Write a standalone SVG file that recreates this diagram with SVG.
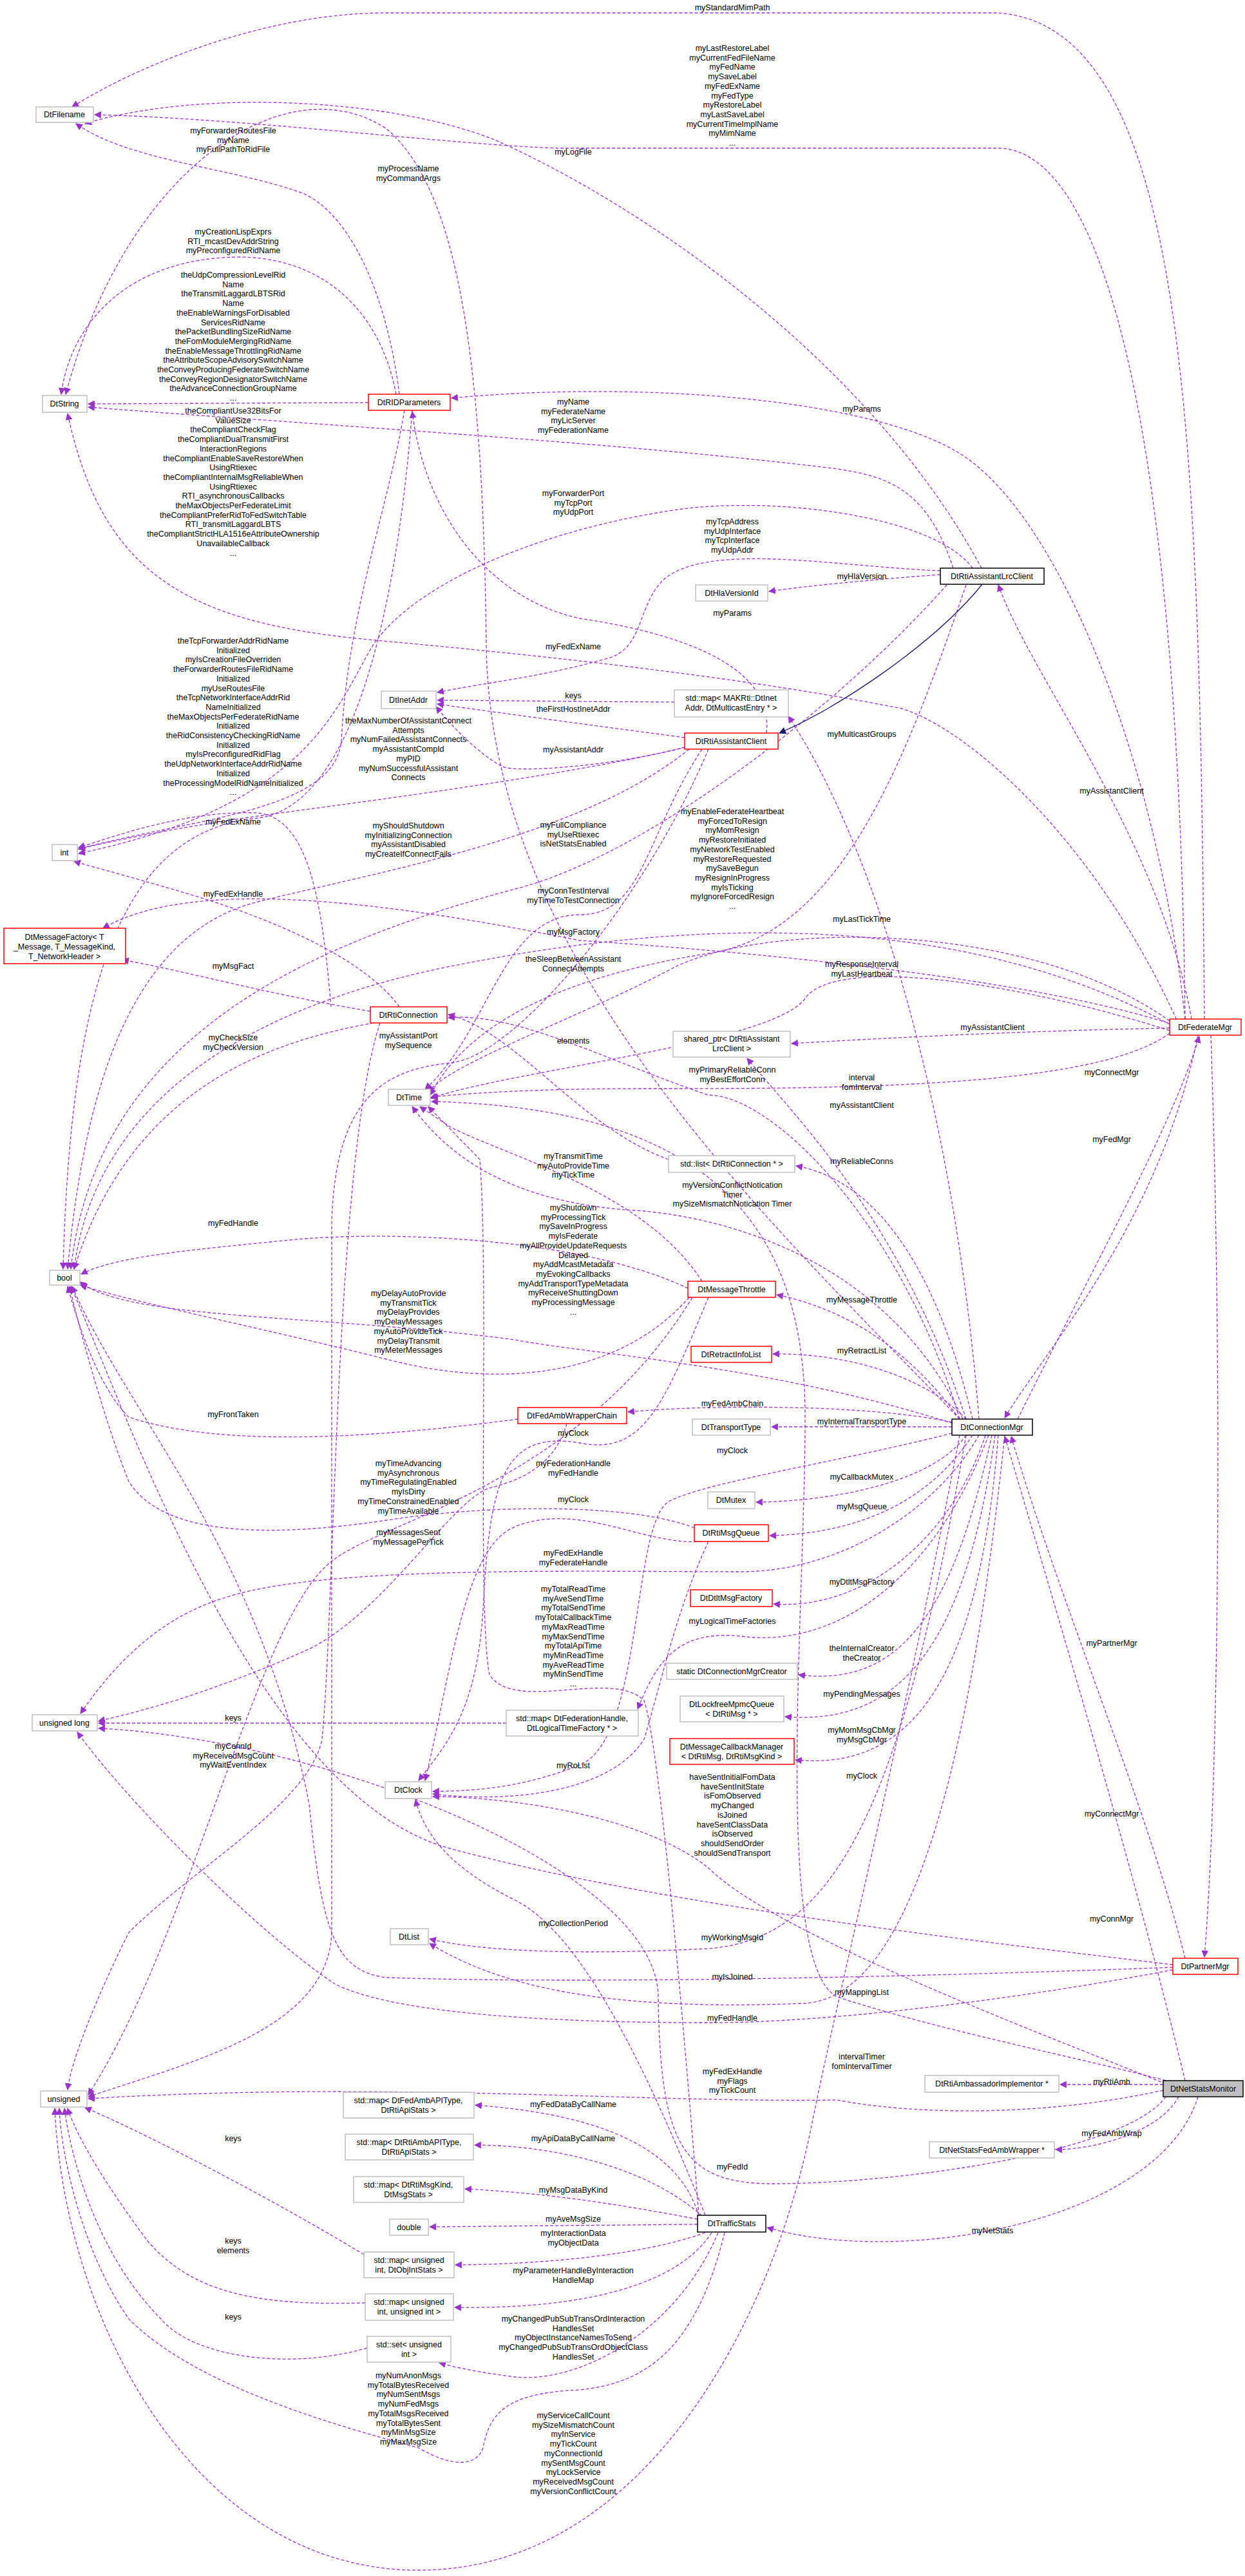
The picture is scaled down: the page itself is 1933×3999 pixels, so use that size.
<svg xmlns="http://www.w3.org/2000/svg" width="1933" height="3999" viewBox="0 0 1933 3999">
<style>
text{font-family:"Liberation Sans",Arial,sans-serif;font-size:12.5px;fill:#000;text-anchor:middle}
.n rect{fill:#fff;stroke:#bfbfbf;stroke-width:1.5}
.r rect{stroke:#ff0000}
.b rect{stroke:#000}
.e path{fill:none;stroke:#9a32cd;stroke-width:1.3;stroke-dasharray:5,3;marker-end:url(#a)}
.e path.inh{stroke:#191970;stroke-dasharray:none;marker-end:url(#ai)}
</style>
<defs>
<marker id="a" viewBox="0 0 10 10" refX="9" refY="5" markerWidth="11" markerHeight="11" markerUnits="userSpaceOnUse" orient="auto"><path d="M0,0 L10,5 L0,10 z" fill="#9a32cd"/></marker>
<marker id="ai" viewBox="0 0 10 10" refX="9" refY="5" markerWidth="11" markerHeight="11" markerUnits="userSpaceOnUse" orient="auto"><path d="M0,0 L10,5 L0,10 z" fill="#191970"/></marker>
</defs>
<rect width="1933" height="3999" fill="#fff"/>
<g id="edges" class="e">
<path d="M1870,1582 C1862,700 1850,40 1549,20 L600,20 C400,20 200,110 112,166"/>
<path d="M1840,1582 C1830,700 1720,230 1549,230 L867,230 C700,225 400,185 147,178"/>
<path d="M1524,882 C1350,560 1000,320 768,217 C600,150 300,140 132,192"/>
<path d="M620,612 C600,450 540,330 470,300 C360,260 200,250 118,192"/>
<path d="M1490,2203 C1200,1900 760,1500 755,1000 C750,600 720,300 600,200 C450,100 200,250 102,612"/>
<path d="M615,612 C590,480 500,400 372,399 C200,400 110,500 95,612"/>
<path d="M572,625 L137,627"/>
<path d="M1480,882 C1440,760 1380,740 1300,728 C1000,690 500,660 137,632"/>
<path d="M1840,1582 C1800,1200 1650,800 1487,702 C1350,620 1000,590 701,618"/>
<path d="M1190,1138 C1200,1050 1100,990 900,960 C760,930 660,800 640,639"/>
<path d="M628,637 C600,800 540,950 530,1150 C520,1260 300,1270 122,1318"/>
<path d="M640,637 C620,900 560,1250 400,1270 C200,1290 110,1500 98,1970"/>
<path d="M1510,882 C1450,800 1200,770 1053,791 C850,820 650,900 580,1000 C520,1100 480,1250 122,1325"/>
<path d="M1460,886 C1300,880 1100,840 1030,900 C990,940 1000,1000 950,1020 C850,1050 750,1060 679,1075"/>
<path d="M1460,892 C1350,900 1250,910 1194,918"/>
<path d="M1830,1590 C1700,1300 1500,1130 1400,1100 C1100,1040 700,1005 595,995 C300,970 160,900 105,642"/>
<path d="M1047,1090 L679,1087"/>
<path d="M1063,1145 C950,1130 800,1110 679,1093"/>
<path d="M1065,1160 C900,1200 600,1240 450,1260 C300,1280 200,1300 122,1318"/>
<path d="M1063,1160 C950,1190 800,1200 780,1190 C760,1180 720,1150 677,1097"/>
<path d="M1520,2203 C1480,1700 1350,1300 1224,1112"/>
<path d="M1850,1582 C1800,1300 1600,1050 1550,908"/>
<path d="M514,1563 C500,1400 480,1270 400,1262 C300,1258 200,1290 122,1316"/>
<path d="M620,1563 C560,1480 400,1420 300,1390 C200,1360 140,1345 115,1337"/>
<path d="M1070,1163 C900,1300 600,1350 400,1400 C200,1450 130,1700 105,1970"/>
<path d="M1470,908 C1300,1100 1000,1330 800,1380 C500,1460 150,1600 110,1970"/>
<path d="M1816,1590 C1500,1420 1100,1420 700,1500 C400,1560 150,1700 115,1970"/>
<path d="M1090,1163 C1000,1300 1000,1420 900,1420 C780,1420 760,1600 660,1691"/>
<path d="M1816,1585 C1600,1430 1200,1430 1050,1500 C900,1580 700,1650 665,1695"/>
<path d="M1820,1590 C1600,1520 1200,1480 900,1460 C600,1400 300,1360 160,1441"/>
<path d="M1500,908 C1400,1200 1300,1450 1100,1480 C850,1520 720,1600 668,1700"/>
<path d="M1816,1600 C1600,1530 1300,1480 1250,1550 C1200,1620 800,1660 668,1705"/>
<path d="M575,1570 C400,1540 300,1510 190,1490"/>
<path d="M580,1588 C400,1620 200,1700 115,1970"/>
<path d="M1100,1163 C1000,1400 800,1640 700,1650 C600,1660 520,1700 515,1900 L515,3000 C510,3150 300,3200 137,3255"/>
<path d="M1038,1800 C900,1750 800,1600 696,1575"/>
<path d="M1816,1596 C1600,1600 1400,1610 1229,1620"/>
<path d="M1490,2203 C1400,1900 1200,1700 1100,1700 C950,1650 800,1570 696,1580"/>
<path d="M1816,1604 C1700,1690 1300,1690 1000,1690 C800,1690 700,1700 670,1703"/>
<path d="M1860,1607 C1800,1900 1620,2100 1560,2201"/>
<path d="M1500,2203 C1400,1900 1250,1750 1160,1643"/>
<path d="M1580,2203 C1680,2000 1820,1750 1862,1609"/>
<path d="M1090,1989 C1000,1850 800,1800 700,1750 L652,1718"/>
<path d="M1510,2203 C1450,1950 1350,1830 1236,1810"/>
<path d="M1495,2203 C1400,2000 1200,1900 1000,1880 C800,1870 700,1800 640,1718"/>
<path d="M1068,2000 C900,1920 600,1910 450,1925 C300,1940 180,1950 126,1978"/>
<path d="M1480,2210 C1200,2120 900,2100 800,2080 C500,2040 200,2050 124,1990"/>
<path d="M1070,2014 C950,2150 750,2150 600,2110 C400,2060 200,2020 125,1995"/>
<path d="M1490,2203 C1400,2080 1300,2030 1206,2010"/>
<path d="M1500,2203 C1430,2130 1300,2100 1200,2102"/>
<path d="M804,2203 C600,2230 350,2250 200,2200 C150,2150 120,2050 105,1997"/>
<path d="M1478,2208 C1350,2180 1100,2180 975,2192"/>
<path d="M1478,2215 L1198,2215"/>
<path d="M1100,2014 C1030,2180 1000,2260 900,2240 C780,2220 760,2300 750,2500 C740,2650 700,2700 650,2764"/>
<path d="M1478,2225 C1300,2270 1100,2300 1040,2330 C980,2360 1000,2700 900,2740 C800,2780 720,2780 672,2781"/>
<path d="M1078,2372 C1000,2340 800,2330 600,2360 C400,2390 250,2380 200,2300 C160,2200 120,2050 108,1997"/>
<path d="M880,2210 C860,2280 800,2300 760,2310 C700,2330 600,2500 480,2560 C300,2640 200,2660 153,2672"/>
<path d="M1500,2228 C1450,2300 1300,2330 1174,2332"/>
<path d="M1090,2393 C1000,2400 900,2330 800,2370 C720,2400 700,2600 660,2764"/>
<path d="M1510,2228 C1450,2320 1350,2380 1195,2384"/>
<path d="M1075,2014 C900,2300 600,2360 520,2420 C400,2500 300,3000 137,3252"/>
<path d="M1520,2228 C1450,2350 1300,2440 1150,2440 C900,2440 500,2430 350,2480 C250,2510 180,2580 125,2660"/>
<path d="M1530,2228 C1480,2380 1350,2500 1201,2490"/>
<path d="M1085,3439 C1050,3000 1020,2700 1000,2640 C950,2590 800,2660 760,2600 C740,2500 760,2000 745,1800 L665,1718"/>
<path d="M1535,2228 C1450,2450 1300,2560 1150,2540 C1050,2530 1020,2580 990,2653"/>
<path d="M1540,2228 C1480,2500 1400,2620 1240,2600"/>
<path d="M1545,2228 C1500,2550 1400,2680 1219,2665"/>
<path d="M786,2675 L153,2675"/>
<path d="M1550,2228 C1520,2600 1420,2750 1235,2732"/>
<path d="M590,1588 C520,1800 520,2500 500,2700 C480,2800 300,2900 200,3000 C150,3100 110,3200 105,3244"/>
<path d="M1100,2393 C1050,2500 1030,2600 1000,2700 C950,2780 800,2800 672,2785"/>
<path d="M1810,3235 C1600,3150 1200,3000 1100,2900 C1000,2820 800,2790 672,2789"/>
<path d="M1821,3050 C1400,3000 1000,2950 700,2870 C400,2790 200,2200 110,1997"/>
<path d="M1880,1607 C1900,2200 1890,2800 1870,3038"/>
<path d="M1840,3040 C1780,2800 1650,2500 1570,2230"/>
<path d="M1840,3230 C1760,2900 1640,2500 1560,2230"/>
<path d="M1095,3439 C1000,3200 900,3000 800,2950 C700,2900 660,2850 645,2794"/>
<path d="M1500,2228 C1400,2800 1300,3010 1100,3025 C900,3035 750,3030 667,3010"/>
<path d="M1821,3054 C1400,3070 900,3080 600,3070 C520,3060 500,3000 480,2800 C400,2400 200,2200 112,1997"/>
<path d="M1560,2228 C1500,2800 1400,3100 1250,3110 C1000,3120 800,3100 667,3017"/>
<path d="M1821,3058 C1600,3100 1300,3140 1100,3140 C800,3140 600,3120 520,3080 C400,3000 200,2800 120,2689"/>
<path d="M1810,3230 C1700,3200 1450,3150 1300,3100 C1200,3050 1250,2500 1250,2200 C1250,1900 1100,1720 670,1710"/>
<path d="M1806,3245 C1600,3290 1400,3280 1300,3260 C1000,3265 600,3230 137,3258"/>
<path d="M1806,3236 L1646,3236"/>
<path d="M1085,3440 C1050,3320 900,3280 738,3268"/>
<path d="M565,3500 C400,3400 200,3300 132,3272"/>
<path d="M1090,3440 C1000,3360 850,3330 737,3330"/>
<path d="M1830,3255 C1800,3310 1700,3337 1639,3337"/>
<path d="M1810,3255 C1750,3340 1400,3390 1200,3390 C1060,3390 1025,3330 1022,3100 C1020,2900 500,2700 153,2683"/>
<path d="M1083,3445 C950,3420 850,3405 722,3398"/>
<path d="M1083,3453 L667,3457"/>
<path d="M1860,3255 C1800,3450 1400,3520 1191,3458"/>
<path d="M1095,3466 C1000,3500 850,3515 707,3516"/>
<path d="M567,3575 C400,3580 300,3560 230,3480 C170,3400 120,3320 105,3273"/>
<path d="M1105,3466 C1050,3550 900,3585 706,3582"/>
<path d="M570,3645 C450,3680 300,3660 250,3600 C150,3500 110,3350 100,3273"/>
<path d="M1115,3466 C1050,3620 900,3700 800,3690 C720,3680 690,3670 682,3668"/>
<path d="M1125,3466 C1080,3650 1000,3700 900,3710 C780,3715 760,3750 750,3800 C740,3830 700,3830 650,3800 C500,3760 300,3700 200,3600 C130,3500 95,3350 92,3273"/>
<path d="M1490,2228 C1400,2700 1300,3100 1260,3300 C1200,3600 1000,3990 650,3990 C300,3990 100,3600 85,3273"/>
<path class="inh" d="M1525,907 C1450,1000 1300,1100 1210,1138"/>
</g>
<g id="labels">
<text x="1137" y="16">myStandardMimPath</text>
<text x="1137" y="79">myLastRestoreLabel<tspan x="1137" dy="14.7">myCurrentFedFileName</tspan><tspan x="1137" dy="14.7">myFedName</tspan><tspan x="1137" dy="14.7">mySaveLabel</tspan><tspan x="1137" dy="14.7">myFedExName</tspan><tspan x="1137" dy="14.7">myFedType</tspan><tspan x="1137" dy="14.7">myRestoreLabel</tspan><tspan x="1137" dy="14.7">myLastSaveLabel</tspan><tspan x="1137" dy="14.7">myCurrentTimeImplName</tspan><tspan x="1137" dy="14.7">myMimName</tspan><tspan x="1137" dy="14.7">...</tspan></text>
<text x="890" y="240">myLogFile</text>
<text x="362" y="207">myForwarderRoutesFile<tspan x="362" dy="14.7">myName</tspan><tspan x="362" dy="14.7">myFullPathToRidFile</tspan></text>
<text x="634" y="266">myProcessName<tspan x="634" dy="14.7">myCommandArgs</tspan></text>
<text x="362" y="364">myCreationLispExprs<tspan x="362" dy="14.7">RTI_mcastDevAddrString</tspan><tspan x="362" dy="14.7">myPreconfiguredRidName</tspan></text>
<text x="362" y="431">theUdpCompressionLevelRid<tspan x="362" dy="14.7">Name</tspan><tspan x="362" dy="14.7">theTransmitLaggardLBTSRid</tspan><tspan x="362" dy="14.7">Name</tspan><tspan x="362" dy="14.7">theEnableWarningsForDisabled</tspan><tspan x="362" dy="14.7">ServicesRidName</tspan><tspan x="362" dy="14.7">thePacketBundlingSizeRidName</tspan><tspan x="362" dy="14.7">theFomModuleMergingRidName</tspan><tspan x="362" dy="14.7">theEnableMessageThrottlingRidName</tspan><tspan x="362" dy="14.7">theAttributeScopeAdvisorySwitchName</tspan><tspan x="362" dy="14.7">theConveyProducingFederateSwitchName</tspan><tspan x="362" dy="14.7">theConveyRegionDesignatorSwitchName</tspan><tspan x="362" dy="14.7">theAdvanceConnectionGroupName</tspan><tspan x="362" dy="14.7">...</tspan></text>
<text x="362" y="642">theCompliantUse32BitsFor<tspan x="362" dy="14.7">ValueSize</tspan><tspan x="362" dy="14.7">theCompliantCheckFlag</tspan><tspan x="362" dy="14.7">theCompliantDualTransmitFirst</tspan><tspan x="362" dy="14.7">InteractionRegions</tspan><tspan x="362" dy="14.7">theCompliantEnableSaveRestoreWhen</tspan><tspan x="362" dy="14.7">UsingRtiexec</tspan><tspan x="362" dy="14.7">theCompliantInternalMsgReliableWhen</tspan><tspan x="362" dy="14.7">UsingRtiexec</tspan><tspan x="362" dy="14.7">RTI_asynchronousCallbacks</tspan><tspan x="362" dy="14.7">theMaxObjectsPerFederateLimit</tspan><tspan x="362" dy="14.7">theCompliantPreferRidToFedSwitchTable</tspan><tspan x="362" dy="14.7">RTI_transmitLaggardLBTS</tspan><tspan x="362" dy="14.7">theCompliantStrictHLA1516eAttributeOwnership</tspan><tspan x="362" dy="14.7">UnavailableCallback</tspan><tspan x="362" dy="14.7">...</tspan></text>
<text x="890" y="628">myName<tspan x="890" dy="14.7">myFederateName</tspan><tspan x="890" dy="14.7">myLicServer</tspan><tspan x="890" dy="14.7">myFederationName</tspan></text>
<text x="1338" y="639">myParams</text>
<text x="890" y="770">myForwarderPort<tspan x="890" dy="14.7">myTcpPort</tspan><tspan x="890" dy="14.7">myUdpPort</tspan></text>
<text x="1137" y="814">myTcpAddress<tspan x="1137" dy="14.7">myUdpInterface</tspan><tspan x="1137" dy="14.7">myTcpInterface</tspan><tspan x="1137" dy="14.7">myUdpAddr</tspan></text>
<text x="1338" y="899">myHlaVersion</text>
<text x="1137" y="956">myParams</text>
<text x="362" y="999">theTcpForwarderAddrRidName<tspan x="362" dy="14.7">Initialized</tspan><tspan x="362" dy="14.7">myIsCreationFileOverriden</tspan><tspan x="362" dy="14.7">theForwarderRoutesFileRidName</tspan><tspan x="362" dy="14.7">Initialized</tspan><tspan x="362" dy="14.7">myUseRoutesFile</tspan><tspan x="362" dy="14.7">theTcpNetworkInterfaceAddrRid</tspan><tspan x="362" dy="14.7">NameInitialized</tspan><tspan x="362" dy="14.7">theMaxObjectsPerFederateRidName</tspan><tspan x="362" dy="14.7">Initialized</tspan><tspan x="362" dy="14.7">theRidConsistencyCheckingRidName</tspan><tspan x="362" dy="14.7">Initialized</tspan><tspan x="362" dy="14.7">myIsPreconfiguredRidFlag</tspan><tspan x="362" dy="14.7">theUdpNetworkInterfaceAddrRidName</tspan><tspan x="362" dy="14.7">Initialized</tspan><tspan x="362" dy="14.7">theProcessingModelRidNameInitialized</tspan><tspan x="362" dy="14.7">...</tspan></text>
<text x="890" y="1008">myFedExName</text>
<text x="890" y="1084">keys</text>
<text x="890" y="1105">theFirstHostInetAddr</text>
<text x="634" y="1123">theMaxNumberOfAssistantConnect<tspan x="634" dy="14.7">Attempts</tspan><tspan x="634" dy="14.7">myNumFailedAssistantConnects</tspan><tspan x="634" dy="14.7">myAssistantCompId</tspan><tspan x="634" dy="14.7">myPID</tspan><tspan x="634" dy="14.7">myNumSuccessfulAssistant</tspan><tspan x="634" dy="14.7">Connects</tspan></text>
<text x="890" y="1168">myAssistantAddr</text>
<text x="1338" y="1144">myMulticastGroups</text>
<text x="1726" y="1232">myAssistantClient</text>
<text x="362" y="1280">myFedExName</text>
<text x="634" y="1286">myShouldShutdown<tspan x="634" dy="14.7">myInitializingConnection</tspan><tspan x="634" dy="14.7">myAssistantDisabled</tspan><tspan x="634" dy="14.7">myCreateIfConnectFails</tspan></text>
<text x="890" y="1285">myFullCompliance<tspan x="890" dy="14.7">myUseRtiexec</tspan><tspan x="890" dy="14.7">isNetStatsEnabled</tspan></text>
<text x="1137" y="1264">myEnableFederateHeartbeat<tspan x="1137" dy="14.7">myForcedToResign</tspan><tspan x="1137" dy="14.7">myMomResign</tspan><tspan x="1137" dy="14.7">myRestoreInitiated</tspan><tspan x="1137" dy="14.7">myNetworkTestEnabled</tspan><tspan x="1137" dy="14.7">myRestoreRequested</tspan><tspan x="1137" dy="14.7">mySaveBegun</tspan><tspan x="1137" dy="14.7">myResignInProgress</tspan><tspan x="1137" dy="14.7">myIsTicking</tspan><tspan x="1137" dy="14.7">myIgnoreForcedResign</tspan><tspan x="1137" dy="14.7">...</tspan></text>
<text x="362" y="1392">myFedExHandle</text>
<text x="890" y="1387">myConnTestInterval<tspan x="890" dy="14.7">myTimeToTestConnection</tspan></text>
<text x="1338" y="1431">myLastTickTime</text>
<text x="890" y="1451">myMsgFactory</text>
<text x="890" y="1493">theSleepBetweenAssistant<tspan x="890" dy="14.7">ConnectAttempts</tspan></text>
<text x="1338" y="1501">myResponseInterval<tspan x="1338" dy="14.7">myLastHeartbeat</tspan></text>
<text x="362" y="1504">myMsgFact</text>
<text x="362" y="1615">myCheckSize<tspan x="362" dy="14.7">myCheckVersion</tspan></text>
<text x="634" y="1612">myAssistantPort<tspan x="634" dy="14.7">mySequence</tspan></text>
<text x="890" y="1620">elements</text>
<text x="1541" y="1599">myAssistantClient</text>
<text x="1137" y="1665">myPrimaryReliableConn<tspan x="1137" dy="14.7">myBestEffortConn</tspan></text>
<text x="1338" y="1677">interval<tspan x="1338" dy="14.7">fomInterval</tspan></text>
<text x="1726" y="1669">myConnectMgr</text>
<text x="1338" y="1720">myAssistantClient</text>
<text x="1726" y="1773">myFedMgr</text>
<text x="890" y="1799">myTransmitTime<tspan x="890" dy="14.7">myAutoProvideTime</tspan><tspan x="890" dy="14.7">myTickTime</tspan></text>
<text x="1338" y="1807">myReliableConns</text>
<text x="1137" y="1844">myVersionConflictNotication<tspan x="1137" dy="14.7">Timer</tspan><tspan x="1137" dy="14.7">mySizeMismatchNotication Timer</tspan></text>
<text x="362" y="1903">myFedHandle</text>
<text x="890" y="1879">myShutdown<tspan x="890" dy="14.7">myProcessingTick</tspan><tspan x="890" dy="14.7">mySaveInProgress</tspan><tspan x="890" dy="14.7">myIsFederate</tspan><tspan x="890" dy="14.7">myAllProvideUpdateRequests</tspan><tspan x="890" dy="14.7">Delayed</tspan><tspan x="890" dy="14.7">myAddMcastMetadata</tspan><tspan x="890" dy="14.7">myEvokingCallbacks</tspan><tspan x="890" dy="14.7">myAddTransportTypeMetadata</tspan><tspan x="890" dy="14.7">myReceiveShuttingDown</tspan><tspan x="890" dy="14.7">myProcessingMessage</tspan><tspan x="890" dy="14.7">...</tspan></text>
<text x="634" y="2012">myDelayAutoProvide<tspan x="634" dy="14.7">myTransmitTick</tspan><tspan x="634" dy="14.7">myDelayProvides</tspan><tspan x="634" dy="14.7">myDelayMessages</tspan><tspan x="634" dy="14.7">myAutoProvideTick</tspan><tspan x="634" dy="14.7">myDelayTransmit</tspan><tspan x="634" dy="14.7">myMeterMessages</tspan></text>
<text x="1338" y="2022">myMessageThrottle</text>
<text x="1338" y="2101">myRetractList</text>
<text x="362" y="2200">myFrontTaken</text>
<text x="1137" y="2183">myFedAmbChain</text>
<text x="1338" y="2211">myInternalTransportType</text>
<text x="890" y="2229">myClock</text>
<text x="1137" y="2256">myClock</text>
<text x="634" y="2276">myTimeAdvancing<tspan x="634" dy="14.7">myAsynchronous</tspan><tspan x="634" dy="14.7">myTimeRegulatingEnabled</tspan><tspan x="634" dy="14.7">myIsDirty</tspan><tspan x="634" dy="14.7">myTimeConstrainedEnabled</tspan><tspan x="634" dy="14.7">myTimeAvailable</tspan></text>
<text x="890" y="2276">myFederationHandle<tspan x="890" dy="14.7">myFedHandle</tspan></text>
<text x="1338" y="2297">myCallbackMutex</text>
<text x="890" y="2332">myClock</text>
<text x="1338" y="2343">myMsgQueue</text>
<text x="634" y="2383">myMessagesSent<tspan x="634" dy="14.7">myMessagePerTick</tspan></text>
<text x="890" y="2415">myFedExHandle<tspan x="890" dy="14.7">myFederateHandle</tspan></text>
<text x="1338" y="2460">myDtltMsgFactory</text>
<text x="890" y="2471">myTotalReadTime<tspan x="890" dy="14.7">myAveSendTime</tspan><tspan x="890" dy="14.7">myTotalSendTime</tspan><tspan x="890" dy="14.7">myTotalCallbackTime</tspan><tspan x="890" dy="14.7">myMaxReadTime</tspan><tspan x="890" dy="14.7">myMaxSendTime</tspan><tspan x="890" dy="14.7">myTotalApiTime</tspan><tspan x="890" dy="14.7">myMinReadTime</tspan><tspan x="890" dy="14.7">myAveReadTime</tspan><tspan x="890" dy="14.7">myMinSendTime</tspan><tspan x="890" dy="14.7">...</tspan></text>
<text x="1137" y="2521">myLogicalTimeFactories</text>
<text x="1338" y="2563">theInternalCreator<tspan x="1338" dy="14.7">theCreator</tspan></text>
<text x="1338" y="2634">myPendingMessages</text>
<text x="362" y="2671">keys</text>
<text x="1338" y="2690">myMomMsgCbMgr<tspan x="1338" dy="14.7">myMsgCbMgr</tspan></text>
<text x="362" y="2715">myConnId<tspan x="362" dy="14.7">myReceivedMsgCount</tspan><tspan x="362" dy="14.7">myWaitEventIndex</tspan></text>
<text x="890" y="2745">myRoList</text>
<text x="1338" y="2761">myClock</text>
<text x="1137" y="2763">haveSentInitialFomData<tspan x="1137" dy="14.7">haveSentInitState</tspan><tspan x="1137" dy="14.7">isFomObserved</tspan><tspan x="1137" dy="14.7">myChanged</tspan><tspan x="1137" dy="14.7">isJoined</tspan><tspan x="1137" dy="14.7">haveSentClassData</tspan><tspan x="1137" dy="14.7">isObserved</tspan><tspan x="1137" dy="14.7">shouldSendOrder</tspan><tspan x="1137" dy="14.7">shouldSendTransport</tspan></text>
<text x="1726" y="2555">myPartnerMgr</text>
<text x="1726" y="2820">myConnectMgr</text>
<text x="1726" y="2983">myConnMgr</text>
<text x="890" y="2990">myCollectionPeriod</text>
<text x="1137" y="3012">myWorkingMsgId</text>
<text x="1137" y="3073">myIsJoined</text>
<text x="1338" y="3097">myMappingList</text>
<text x="1137" y="3137">myFedHandle</text>
<text x="1338" y="3197">intervalTimer<tspan x="1338" dy="14.7">fomIntervalTimer</tspan></text>
<text x="1137" y="3220">myFedExHandle<tspan x="1137" dy="14.7">myFlags</tspan><tspan x="1137" dy="14.7">myTickCount</tspan></text>
<text x="1726" y="3236">myRtiAmb</text>
<text x="890" y="3271">myFedDataByCallName</text>
<text x="362" y="3324">keys</text>
<text x="890" y="3324">myApiDataByCallName</text>
<text x="1726" y="3316">myFedAmbWrap</text>
<text x="1137" y="3368">myFedId</text>
<text x="890" y="3404">myMsgDataByKind</text>
<text x="890" y="3449">myAveMsgSize</text>
<text x="1541" y="3467">myNetStats</text>
<text x="890" y="3471">myInteractionData<tspan x="890" dy="14.7">myObjectData</tspan></text>
<text x="362" y="3483">keys<tspan x="362" dy="14.7">elements</tspan></text>
<text x="890" y="3529">myParameterHandleByInteraction<tspan x="890" dy="14.7">HandleMap</tspan></text>
<text x="362" y="3601">keys</text>
<text x="890" y="3604">myChangedPubSubTransOrdInteraction<tspan x="890" dy="14.7">HandlesSet</tspan><tspan x="890" dy="14.7">myObjectInstanceNamesToSend</tspan><tspan x="890" dy="14.7">myChangedPubSubTransOrdObjectClass</tspan><tspan x="890" dy="14.7">HandlesSet</tspan></text>
<text x="634" y="3692">myNumAnonMsgs<tspan x="634" dy="14.7">myTotalBytesReceived</tspan><tspan x="634" dy="14.7">myNumSentMsgs</tspan><tspan x="634" dy="14.7">myNumFedMsgs</tspan><tspan x="634" dy="14.7">myTotalMsgsReceived</tspan><tspan x="634" dy="14.7">myTotalBytesSent</tspan><tspan x="634" dy="14.7">myMinMsgSize</tspan><tspan x="634" dy="14.7">myMaxMsgSize</tspan></text>
<text x="890" y="3754">myServiceCallCount<tspan x="890" dy="14.7">mySizeMismatchCount</tspan><tspan x="890" dy="14.7">myInService</tspan><tspan x="890" dy="14.7">myTickCount</tspan><tspan x="890" dy="14.7">myConnectionId</tspan><tspan x="890" dy="14.7">mySentMsgCount</tspan><tspan x="890" dy="14.7">myLockService</tspan><tspan x="890" dy="14.7">myReceivedMsgCount</tspan><tspan x="890" dy="14.7">myVersionConflictCount</tspan></text>
</g>
<g id="DtFilename" class="n"><rect x="56" y="166" width="89" height="24"/><text x="100" y="182">DtFilename</text></g>
<g id="DtString" class="n"><rect x="66" y="614" width="69" height="26"/><text x="100" y="631">DtString</text></g>
<g id="DtRIDParameters" class="n r"><rect x="572" y="612" width="127" height="25"/><text x="635" y="629">DtRIDParameters</text></g>
<g id="DtRtiAssistantLrcClient" class="n b"><rect x="1460" y="882" width="161" height="25"/><text x="1540" y="899">DtRtiAssistantLrcClient</text></g>
<g id="DtHlaVersionId" class="n"><rect x="1080" y="908" width="112" height="25"/><text x="1136" y="925">DtHlaVersionId</text></g>
<g id="DtInetAddr" class="n"><rect x="592" y="1073" width="85" height="27"/><text x="634" y="1091">DtInetAddr</text></g>
<g id="mapInet" class="n"><rect x="1047" y="1071" width="177" height="42"/><text x="1135" y="1088">std::map&lt; MAKRti::DtInet</text><text x="1135" y="1103">Addr, DtMulticastEntry * &gt;</text></g>
<g id="DtRtiAssistantClient" class="n r"><rect x="1063" y="1138" width="145" height="25"/><text x="1135" y="1155">DtRtiAssistantClient</text></g>
<g id="int" class="n"><rect x="81" y="1311" width="39" height="25"/><text x="100" y="1328">int</text></g>
<g id="DtMessageFactory" class="n r"><rect x="6" y="1441" width="189" height="55"/><text x="100" y="1459">DtMessageFactory&lt; T</text><text x="100" y="1474">_Message, T_MessageKind,</text><text x="100" y="1489">T_NetworkHeader &gt;</text></g>
<g id="DtRtiConnection" class="n r"><rect x="575" y="1563" width="119" height="25"/><text x="634" y="1580">DtRtiConnection</text></g>
<g id="DtFederateMgr" class="n r"><rect x="1816" y="1582" width="111" height="25"/><text x="1871" y="1599">DtFederateMgr</text></g>
<g id="sharedPtr" class="n"><rect x="1045" y="1601" width="182" height="40"/><text x="1136" y="1617">shared_ptr&lt; DtRtiAssistant</text><text x="1136" y="1632">LrcClient &gt;</text></g>
<g id="DtTime" class="n"><rect x="603" y="1691" width="65" height="25"/><text x="635" y="1708">DtTime</text></g>
<g id="listConn" class="n"><rect x="1038" y="1794" width="196" height="26"/><text x="1136" y="1811">std::list&lt; DtRtiConnection * &gt;</text></g>
<g id="bool" class="n"><rect x="77" y="1972" width="47" height="23"/><text x="100" y="1988">bool</text></g>
<g id="DtMessageThrottle" class="n r"><rect x="1068" y="1989" width="136" height="25"/><text x="1136" y="2006">DtMessageThrottle</text></g>
<g id="DtRetractInfoList" class="n r"><rect x="1073" y="2090" width="125" height="25"/><text x="1135" y="2107">DtRetractInfoList</text></g>
<g id="DtFedAmbWrapperChain" class="n r"><rect x="804" y="2185" width="169" height="25"/><text x="888" y="2202">DtFedAmbWrapperChain</text></g>
<g id="DtTransportType" class="n"><rect x="1075" y="2203" width="121" height="25"/><text x="1135" y="2220">DtTransportType</text></g>
<g id="DtConnectionMgr" class="n b"><rect x="1478" y="2203" width="125" height="25"/><text x="1540" y="2220">DtConnectionMgr</text></g>
<g id="DtMutex" class="n"><rect x="1099" y="2316" width="73" height="26"/><text x="1135" y="2333">DtMutex</text></g>
<g id="DtRtiMsgQueue" class="n r"><rect x="1078" y="2367" width="115" height="26"/><text x="1135" y="2384">DtRtiMsgQueue</text></g>
<g id="DtDtltMsgFactory" class="n r"><rect x="1072" y="2468" width="127" height="26"/><text x="1135" y="2485">DtDtltMsgFactory</text></g>
<g id="creator" class="n"><rect x="1035" y="2582" width="203" height="25"/><text x="1136" y="2599">static DtConnectionMgrCreator</text></g>
<g id="lockfree" class="n"><rect x="1056" y="2633" width="161" height="40"/><text x="1136" y="2650">DtLockfreeMpmcQueue</text><text x="1136" y="2665">&lt; DtRtiMsg * &gt;</text></g>
<g id="cbMgr" class="n r"><rect x="1040" y="2699" width="193" height="40"/><text x="1136" y="2716">DtMessageCallbackManager</text><text x="1136" y="2731">&lt; DtRtiMsg, DtRtiMsgKind &gt;</text></g>
<g id="unsignedLong" class="n"><rect x="50" y="2662" width="101" height="25"/><text x="100" y="2679">unsigned long</text></g>
<g id="mapFed" class="n"><rect x="786" y="2655" width="205" height="40"/><text x="888" y="2672">std::map&lt; DtFederationHandle,</text><text x="888" y="2687">DtLogicalTimeFactory * &gt;</text></g>
<g id="DtClock" class="n"><rect x="598" y="2766" width="72" height="26"/><text x="634" y="2783">DtClock</text></g>
<g id="DtList" class="n"><rect x="606" y="2994" width="59" height="25"/><text x="635" y="3011">DtList</text></g>
<g id="DtPartnerMgr" class="n r"><rect x="1821" y="3040" width="101" height="25"/><text x="1871" y="3057">DtPartnerMgr</text></g>
<g id="DtNetStatsMonitor" class="n b"><rect x="1806" y="3230" width="124" height="25" style="fill:#bfbfbf"/><text x="1868" y="3247">DtNetStatsMonitor</text></g>
<g id="rtiAmbImpl" class="n"><rect x="1436" y="3222" width="208" height="26"/><text x="1540" y="3239">DtRtiAmbassadorImplementor *</text></g>
<g id="unsigned" class="n"><rect x="63" y="3246" width="72" height="25"/><text x="99" y="3263">unsigned</text></g>
<g id="mapFedAmb" class="n"><rect x="533" y="3248" width="203" height="40"/><text x="634" y="3265">std::map&lt; DtFedAmbAPIType,</text><text x="634" y="3280">DtRtiApiStats &gt;</text></g>
<g id="mapRtiAmb" class="n"><rect x="536" y="3313" width="199" height="40"/><text x="635" y="3330">std::map&lt; DtRtiAmbAPIType,</text><text x="635" y="3345">DtRtiApiStats &gt;</text></g>
<g id="nsFedAmbWrap" class="n"><rect x="1443" y="3325" width="194" height="25"/><text x="1540" y="3342">DtNetStatsFedAmbWrapper *</text></g>
<g id="mapMsgKind" class="n"><rect x="549" y="3379" width="171" height="40"/><text x="634" y="3396">std::map&lt; DtRtiMsgKind,</text><text x="634" y="3411">DtMsgStats &gt;</text></g>
<g id="double" class="n"><rect x="605" y="3445" width="60" height="25"/><text x="635" y="3462">double</text></g>
<g id="DtTrafficStats" class="n b"><rect x="1083" y="3439" width="106" height="26"/><text x="1136" y="3456">DtTrafficStats</text></g>
<g id="mapObjInt" class="n"><rect x="565" y="3496" width="140" height="40"/><text x="635" y="3513">std::map&lt; unsigned</text><text x="635" y="3528">int, DtObjIntStats &gt;</text></g>
<g id="mapUIUI" class="n"><rect x="567" y="3561" width="137" height="41"/><text x="635" y="3578">std::map&lt; unsigned</text><text x="635" y="3593">int, unsigned int &gt;</text></g>
<g id="setUI" class="n"><rect x="570" y="3627" width="130" height="40"/><text x="635" y="3644">std::set&lt; unsigned</text><text x="635" y="3659">int &gt;</text></g>
</svg>
